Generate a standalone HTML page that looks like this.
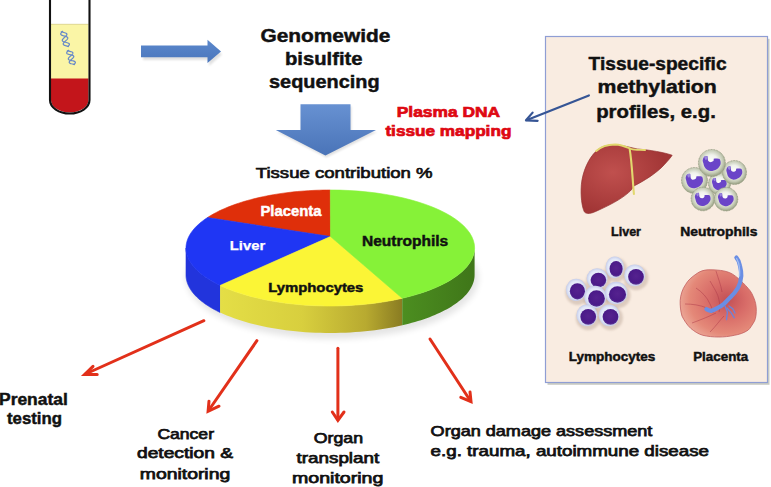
<!DOCTYPE html>
<html><head><meta charset="utf-8"><style>
html,body{margin:0;padding:0;background:#fff;overflow:hidden}
svg{display:block}
</style></head><body>
<svg width="771" height="487" viewBox="0 0 771 487">

<defs>
<linearGradient id="ysideg" x1="0" x2="1" y1="0" y2="0" gradientUnits="objectBoundingBox">
 <stop offset="0" stop-color="#e4de46"/><stop offset="0.45" stop-color="#d8cf3e"/><stop offset="0.8" stop-color="#b8aa30"/><stop offset="1" stop-color="#8a7c22"/>
</linearGradient>
<linearGradient id="gsideg" x1="0" x2="1" y1="0" y2="0">
 <stop offset="0" stop-color="#4c8e20"/><stop offset="1" stop-color="#3f7619"/>
</linearGradient>
<linearGradient id="downg" x1="0" x2="0" y1="0" y2="1">
 <stop offset="0" stop-color="#6791d2"/><stop offset="1" stop-color="#4a74b8"/>
</linearGradient>
<linearGradient id="rightg" x1="0" x2="0" y1="0" y2="1">
 <stop offset="0" stop-color="#5b88cc"/><stop offset="1" stop-color="#4a76bc"/>
</linearGradient>
<filter id="blur3" x="-20%" y="-20%" width="140%" height="140%"><feGaussianBlur stdDeviation="3"/></filter>
<filter id="blur1" x="-20%" y="-20%" width="140%" height="140%"><feGaussianBlur stdDeviation="1.2"/></filter>
<filter id="blur05" x="-20%" y="-20%" width="140%" height="140%"><feGaussianBlur stdDeviation="0.5"/></filter>
<radialGradient id="neutg" cx="0.48" cy="0.45" r="0.55">
 <stop offset="0" stop-color="#ffffff"/><stop offset="0.45" stop-color="#f0f2ec"/><stop offset="0.78" stop-color="#c4cab4"/><stop offset="1" stop-color="#959d80"/>
</radialGradient>
<radialGradient id="lymhalo" cx="0.5" cy="0.5" r="0.5">
 <stop offset="0" stop-color="#f2f5fd"/><stop offset="0.75" stop-color="#e2e8f8"/><stop offset="1" stop-color="#c6cdea"/>
</radialGradient>
<radialGradient id="lymnuc" cx="0.5" cy="0.45" r="0.55">
 <stop offset="0" stop-color="#55228f"/><stop offset="0.8" stop-color="#4a1a88"/><stop offset="1" stop-color="#5c3898"/>
</radialGradient>
<radialGradient id="placg" cx="0.62" cy="0.45" r="0.62">
 <stop offset="0" stop-color="#c25056"/><stop offset="0.4" stop-color="#d86c68"/><stop offset="0.8" stop-color="#e48878"/><stop offset="1" stop-color="#eaa292"/>
</radialGradient>
<radialGradient id="liverg" cx="0.35" cy="0.4" r="0.6">
 <stop offset="0" stop-color="#c0504e"/><stop offset="1" stop-color="#a23636"/>
</radialGradient>
</defs>


<path d="M50,-2 L50,100 A19.75,13.5 0 0 0 89.5,100 L89.5,-2" fill="#fff" stroke="none"/>
<rect x="51" y="24" width="37.5" height="55" fill="#faf5a6"/>
<line x1="51" y1="24.3" x2="88.5" y2="24.3" stroke="#d8cf90" stroke-width="0.8"/>
<path d="M51,78.5 L88.5,78.5 L88.5,100 A18.75,12.5 0 0 1 51,100 Z" fill="#c3151b"/>
<path d="M50,-2 L50,100 A19.75,13.5 0 0 0 89.5,100 L89.5,-2" fill="none" stroke="#111" stroke-width="2.1"/>
<path d="M63.00,31.00 L62.38,31.58 L61.80,32.15 L61.31,32.70 L60.94,33.21 L60.73,33.69 L60.70,34.13 L60.84,34.51 L61.17,34.86 L61.66,35.16 L62.29,35.43 L63.03,35.67 L63.84,35.89 L64.66,36.11 L65.47,36.33 L66.21,36.57 L66.84,36.84 L67.33,37.14 L67.66,37.49 L67.80,37.87 L67.77,38.31 L67.56,38.79 L67.19,39.30 L66.70,39.85 L66.12,40.42 L65.50,41.00 L64.88,41.58 L64.30,42.15 L63.81,42.70 L63.44,43.21 L63.23,43.69 L63.20,44.13 L63.34,44.51 L63.67,44.86 L64.16,45.16 L64.79,45.43 L65.53,45.67 L66.34,45.89 L67.16,46.11 L67.97,46.33 L68.71,46.57" fill="none" stroke="#6688c8" stroke-width="1.2"/><path d="M60.83,31.54 L61.48,31.80 L62.23,32.04 L63.05,32.26 L63.87,32.48 L64.67,32.71 L65.40,32.95 L66.01,33.22 L66.48,33.53 L66.78,33.88 L66.90,34.28 L66.83,34.72 L66.60,35.20 L66.21,35.72 L65.70,36.27 L65.12,36.85 L64.49,37.43 L63.87,38.01 L63.30,38.57 L62.83,39.12 L62.49,39.63 L62.30,40.10 L62.29,40.53 L62.46,40.91 L62.82,41.25 L63.33,41.54 L63.98,41.80 L64.73,42.04 L65.55,42.26 L66.37,42.48 L67.17,42.71 L67.90,42.95 L68.51,43.22 L68.98,43.53 L69.28,43.88 L69.40,44.28 L69.33,44.72 L69.10,45.20 L68.71,45.72 L68.20,46.27 L67.62,46.85" fill="none" stroke="#6688c8" stroke-width="1.2"/><path d="M69.00,50.00 L68.38,50.57 L67.80,51.12 L67.32,51.65 L66.95,52.15 L66.74,52.61 L66.71,53.02 L66.85,53.38 L67.18,53.70 L67.67,53.97 L68.30,54.20 L69.03,54.41 L69.84,54.60 L70.66,54.78 L71.47,54.97 L72.20,55.17 L72.83,55.40 L73.32,55.68 L73.65,55.99 L73.79,56.35 L73.76,56.76 L73.55,57.22 L73.18,57.72 L72.70,58.25 L72.12,58.81 L71.50,59.38 L70.88,59.94 L70.30,60.50 L69.82,61.03 L69.45,61.53 L69.24,61.99 L69.21,62.40 L69.35,62.76 L69.68,63.07 L70.17,63.35 L70.80,63.58 L71.53,63.78 L72.34,63.97 L73.16,64.15 L73.97,64.34 L74.70,64.55" fill="none" stroke="#6688c8" stroke-width="1.2"/><path d="M66.84,50.58 L67.49,50.81 L68.24,51.01 L69.05,51.19 L69.87,51.37 L70.67,51.56 L71.39,51.77 L72.00,52.01 L72.47,52.29 L72.77,52.61 L72.88,52.98 L72.82,53.40 L72.59,53.86 L72.20,54.37 L71.70,54.90 L71.11,55.46 L70.49,56.03 L69.87,56.60 L69.31,57.15 L68.84,57.68 L68.50,58.17 L68.31,58.62 L68.30,59.02 L68.48,59.38 L68.83,59.69 L69.34,59.95 L69.99,60.18 L70.74,60.38 L71.55,60.57 L72.37,60.75 L73.17,60.94 L73.89,61.15 L74.50,61.39 L74.97,61.66 L75.27,61.99 L75.38,62.36 L75.32,62.77 L75.09,63.24 L74.70,63.74 L74.20,64.28 L73.61,64.84" fill="none" stroke="#6688c8" stroke-width="1.2"/>

<polygon points="142,47 208,47 208,41 221,52.5 208,64 208,58 142,58" fill="#000" opacity="0.12" filter="url(#blur1)" transform="translate(1,2)"/>
<polygon points="141,45.5 207.5,45.5 207.5,39.7 221,51.4 207.5,63 207.5,57.2 141,57.2" fill="url(#rightg)"/>
<polygon points="300.5,104.3 350.5,104.3 350.5,130 376,130 325.4,155.4 275.8,130 300.5,130" fill="#000" opacity="0.12" filter="url(#blur1)" transform="translate(1,2)"/>
<polygon points="300.5,104.3 350.5,104.3 350.5,130 376,130 325.4,155.4 275.8,130 300.5,130" fill="url(#downg)"/>


<rect x="547.5" y="38.8" width="222" height="346" fill="#b8bab0" opacity="0.75" filter="url(#blur05)"/>
<rect x="545.5" y="36.5" width="222" height="346" fill="#f9ece1" stroke="#8f9ed4" stroke-width="1.2"/>

<g stroke="#365595" stroke-width="2.2" fill="none" stroke-linecap="round" stroke-linejoin="round">
<line x1="588.9" y1="95.5" x2="527" y2="120"/>
<polyline points="532.6,112.6 526,120.3 537.6,120.8"/>
</g>


<g transform="translate(570,135) scale(0.1746)">
<path d="M150,92 C105,135 72,210 65,285 C60,350 68,410 82,440 C95,455 120,452 160,432 C220,405 290,370 335,330 C350,318 358,305 366,292 C420,265 495,220 540,170 C562,146 578,128 585,116 C540,100 460,86 385,80 C345,72 305,58 255,56 C205,56 172,70 150,92 Z" fill="url(#liverg)" stroke="#93302f" stroke-width="4"/>
<path d="M150,92 C180,64 220,54 258,54 C300,56 330,72 350,80 C372,88 400,84 430,86" fill="none" stroke="#e2d86e" stroke-width="11" stroke-linecap="round"/>
<path d="M342,82 C354,150 358,250 366,338" fill="none" stroke="#e2d86e" stroke-width="12" stroke-linecap="round"/>
</g>

<g><circle cx="719.5" cy="183.7" r="11" fill="url(#neutg)" stroke="#8f967c" stroke-width="0.9" stroke-dasharray="0.8 0.8"/><path transform="translate(717.87,182.48) scale(0.774)" d="M-6.1,-5 C-4.5,-6 -3,-6 -2.5,-5.4 C-2.2,-3 -2.2,-1.2 -1.8,-0.7 C-1,0.6 0.4,0.9 1.5,0.6 C3,0 4,-0.5 4,-1.5 L4,-2.9 C6,-3.2 9,-3.2 10.4,-2.5 C11.5,-0.5 11.5,1.5 11.2,2.9 C10,5.5 9,7 7.6,7.9 C5,9.5 3,10.1 1.1,10.1 C-1.5,9.8 -3.5,8.5 -4.7,7.2 C-6,5.5 -6.5,4 -6.8,2.2 C-7.3,0.5 -7.6,-0.5 -7.6,-1.4 C-7.4,-3 -6.8,-4.2 -6.1,-5 Z" fill="#6a44c8"/><path transform="translate(717.87,182.48) scale(0.774)" d="M-6,-5 C-5,-6 -3.5,-6 -2.8,-5.2 C-2.6,-3.5 -3,-2 -4,-1.5 C-5.2,-1.8 -5.8,-3.5 -6,-5 Z" fill="#9a86dc"/><circle cx="694.5" cy="180.5" r="13" fill="url(#neutg)" stroke="#8f967c" stroke-width="0.9" stroke-dasharray="0.8 0.8"/><path transform="translate(692.57,179.06) scale(0.915)" d="M-6.1,-5 C-4.5,-6 -3,-6 -2.5,-5.4 C-2.2,-3 -2.2,-1.2 -1.8,-0.7 C-1,0.6 0.4,0.9 1.5,0.6 C3,0 4,-0.5 4,-1.5 L4,-2.9 C6,-3.2 9,-3.2 10.4,-2.5 C11.5,-0.5 11.5,1.5 11.2,2.9 C10,5.5 9,7 7.6,7.9 C5,9.5 3,10.1 1.1,10.1 C-1.5,9.8 -3.5,8.5 -4.7,7.2 C-6,5.5 -6.5,4 -6.8,2.2 C-7.3,0.5 -7.6,-0.5 -7.6,-1.4 C-7.4,-3 -6.8,-4.2 -6.1,-5 Z" fill="#6a44c8"/><path transform="translate(692.57,179.06) scale(0.915)" d="M-6,-5 C-5,-6 -3.5,-6 -2.8,-5.2 C-2.6,-3.5 -3,-2 -4,-1.5 C-5.2,-1.8 -5.8,-3.5 -6,-5 Z" fill="#9a86dc"/><circle cx="734.5" cy="172.5" r="12" fill="url(#neutg)" stroke="#8f967c" stroke-width="0.9" stroke-dasharray="0.8 0.8"/><path transform="translate(732.72,171.17) scale(0.844)" d="M-6.1,-5 C-4.5,-6 -3,-6 -2.5,-5.4 C-2.2,-3 -2.2,-1.2 -1.8,-0.7 C-1,0.6 0.4,0.9 1.5,0.6 C3,0 4,-0.5 4,-1.5 L4,-2.9 C6,-3.2 9,-3.2 10.4,-2.5 C11.5,-0.5 11.5,1.5 11.2,2.9 C10,5.5 9,7 7.6,7.9 C5,9.5 3,10.1 1.1,10.1 C-1.5,9.8 -3.5,8.5 -4.7,7.2 C-6,5.5 -6.5,4 -6.8,2.2 C-7.3,0.5 -7.6,-0.5 -7.6,-1.4 C-7.4,-3 -6.8,-4.2 -6.1,-5 Z" fill="#6a44c8"/><path transform="translate(732.72,171.17) scale(0.844)" d="M-6,-5 C-5,-6 -3.5,-6 -2.8,-5.2 C-2.6,-3.5 -3,-2 -4,-1.5 C-5.2,-1.8 -5.8,-3.5 -6,-5 Z" fill="#9a86dc"/><circle cx="711.9" cy="163" r="13.5" fill="url(#neutg)" stroke="#8f967c" stroke-width="0.9" stroke-dasharray="0.8 0.8"/><path transform="translate(709.90,161.50) scale(0.950)" d="M-6.1,-5 C-4.5,-6 -3,-6 -2.5,-5.4 C-2.2,-3 -2.2,-1.2 -1.8,-0.7 C-1,0.6 0.4,0.9 1.5,0.6 C3,0 4,-0.5 4,-1.5 L4,-2.9 C6,-3.2 9,-3.2 10.4,-2.5 C11.5,-0.5 11.5,1.5 11.2,2.9 C10,5.5 9,7 7.6,7.9 C5,9.5 3,10.1 1.1,10.1 C-1.5,9.8 -3.5,8.5 -4.7,7.2 C-6,5.5 -6.5,4 -6.8,2.2 C-7.3,0.5 -7.6,-0.5 -7.6,-1.4 C-7.4,-3 -6.8,-4.2 -6.1,-5 Z" fill="#6a44c8"/><path transform="translate(709.90,161.50) scale(0.950)" d="M-6,-5 C-5,-6 -3.5,-6 -2.8,-5.2 C-2.6,-3.5 -3,-2 -4,-1.5 C-5.2,-1.8 -5.8,-3.5 -6,-5 Z" fill="#9a86dc"/><circle cx="702.9" cy="199" r="11.8" fill="url(#neutg)" stroke="#8f967c" stroke-width="0.9" stroke-dasharray="0.8 0.8"/><path transform="translate(701.15,197.69) scale(0.830)" d="M-6.1,-5 C-4.5,-6 -3,-6 -2.5,-5.4 C-2.2,-3 -2.2,-1.2 -1.8,-0.7 C-1,0.6 0.4,0.9 1.5,0.6 C3,0 4,-0.5 4,-1.5 L4,-2.9 C6,-3.2 9,-3.2 10.4,-2.5 C11.5,-0.5 11.5,1.5 11.2,2.9 C10,5.5 9,7 7.6,7.9 C5,9.5 3,10.1 1.1,10.1 C-1.5,9.8 -3.5,8.5 -4.7,7.2 C-6,5.5 -6.5,4 -6.8,2.2 C-7.3,0.5 -7.6,-0.5 -7.6,-1.4 C-7.4,-3 -6.8,-4.2 -6.1,-5 Z" fill="#6a44c8"/><path transform="translate(701.15,197.69) scale(0.830)" d="M-6,-5 C-5,-6 -3.5,-6 -2.8,-5.2 C-2.6,-3.5 -3,-2 -4,-1.5 C-5.2,-1.8 -5.8,-3.5 -6,-5 Z" fill="#9a86dc"/><circle cx="726" cy="199.2" r="11.8" fill="url(#neutg)" stroke="#8f967c" stroke-width="0.9" stroke-dasharray="0.8 0.8"/><path transform="translate(724.25,197.89) scale(0.830)" d="M-6.1,-5 C-4.5,-6 -3,-6 -2.5,-5.4 C-2.2,-3 -2.2,-1.2 -1.8,-0.7 C-1,0.6 0.4,0.9 1.5,0.6 C3,0 4,-0.5 4,-1.5 L4,-2.9 C6,-3.2 9,-3.2 10.4,-2.5 C11.5,-0.5 11.5,1.5 11.2,2.9 C10,5.5 9,7 7.6,7.9 C5,9.5 3,10.1 1.1,10.1 C-1.5,9.8 -3.5,8.5 -4.7,7.2 C-6,5.5 -6.5,4 -6.8,2.2 C-7.3,0.5 -7.6,-0.5 -7.6,-1.4 C-7.4,-3 -6.8,-4.2 -6.1,-5 Z" fill="#6a44c8"/><path transform="translate(724.25,197.89) scale(0.830)" d="M-6,-5 C-5,-6 -3.5,-6 -2.8,-5.2 C-2.6,-3.5 -3,-2 -4,-1.5 C-5.2,-1.8 -5.8,-3.5 -6,-5 Z" fill="#9a86dc"/></g>
<g><ellipse cx="616.1" cy="269.8" rx="11.1" ry="12.4" fill="#a89080" opacity="0.35" filter="url(#blur1)"/><ellipse cx="636" cy="277.8" rx="12.4" ry="12.4" fill="#a89080" opacity="0.35" filter="url(#blur1)"/><ellipse cx="598.4" cy="281.1" rx="12.35" ry="11.8" fill="#a89080" opacity="0.35" filter="url(#blur1)"/><ellipse cx="577.4" cy="292.3" rx="12.1" ry="12.6" fill="#a89080" opacity="0.35" filter="url(#blur1)"/><ellipse cx="617.5" cy="295.5" rx="13.1" ry="12.7" fill="#a89080" opacity="0.35" filter="url(#blur1)"/><ellipse cx="596.5" cy="299.5" rx="12.9" ry="12.7" fill="#a89080" opacity="0.35" filter="url(#blur1)"/><ellipse cx="588.2" cy="317.8" rx="12.4" ry="12.4" fill="#a89080" opacity="0.35" filter="url(#blur1)"/><ellipse cx="610.5" cy="317.8" rx="12.4" ry="12.4" fill="#a89080" opacity="0.35" filter="url(#blur1)"/><ellipse cx="614.8000000000001" cy="267.3" rx="9.2" ry="10.9" fill="url(#lymhalo)"/><ellipse cx="616.1" cy="268.8" rx="6.6" ry="7.9" fill="url(#lymnuc)"/><ellipse cx="634.7" cy="275.3" rx="10.5" ry="10.9" fill="url(#lymhalo)"/><ellipse cx="636" cy="276.8" rx="7.9" ry="7.9" fill="url(#lymnuc)"/><ellipse cx="597.1" cy="278.6" rx="10.45" ry="10.3" fill="url(#lymhalo)"/><ellipse cx="598.4" cy="280.1" rx="7.85" ry="7.3" fill="url(#lymnuc)"/><ellipse cx="576.1" cy="289.8" rx="10.2" ry="11.1" fill="url(#lymhalo)"/><ellipse cx="577.4" cy="291.3" rx="7.6" ry="8.1" fill="url(#lymnuc)"/><ellipse cx="616.2" cy="293.0" rx="11.2" ry="11.2" fill="url(#lymhalo)"/><ellipse cx="617.5" cy="294.5" rx="8.6" ry="8.2" fill="url(#lymnuc)"/><ellipse cx="595.2" cy="297.0" rx="11.0" ry="11.2" fill="url(#lymhalo)"/><ellipse cx="596.5" cy="298.5" rx="8.4" ry="8.2" fill="url(#lymnuc)"/><ellipse cx="586.9000000000001" cy="315.3" rx="10.5" ry="10.9" fill="url(#lymhalo)"/><ellipse cx="588.2" cy="316.8" rx="7.9" ry="7.9" fill="url(#lymnuc)"/><ellipse cx="609.2" cy="315.3" rx="10.5" ry="10.9" fill="url(#lymhalo)"/><ellipse cx="610.5" cy="316.8" rx="7.9" ry="7.9" fill="url(#lymnuc)"/></g>

<path d="M695.9,274.2 C700,271 704,270 708.2,269.8 C712,269.5 716,270 720.4,270.4 C725,271 729,272 732.6,274.2 C737,277 740,280 743.1,282.9 C747,287 750,290 751.8,293.4 C754,298 755.8,302 756.2,307.4 C756.5,313 756,318 754.4,321.3 C752,325 750.5,328 748.3,330 C744,333 739,334.5 734.3,335.3 C729,336.5 724,337 718.6,337 C713,337 708,336.5 702.9,335.3 C698,334 694,331 690.7,328.3 C687,325 684,320 682,316.1 C680.5,311 680,305 680.2,300.4 C680.5,295 682.5,289 685.5,284.7 C688,280 692,277 695.9,274.2 Z" fill="url(#placg)" stroke="#c25c5c" stroke-width="0.8"/>
<g stroke="#a83648" stroke-width="0.55" fill="none" opacity="0.85">
<path d="M710,281 C714,288 718,294 719,300 C720,305 720,309 719,312"/>
<path d="M696,288 C702,292 707,297 710,304 C712,308 713,311 713,313"/>
<path d="M685,304 C692,304 700,305 707,308"/>
<path d="M692,323 C700,320 708,317 716,313"/>
<path d="M710,332 C716,326 720,320 724,316"/>
<path d="M716,271 C718,278 721,285 722,292"/>
</g>
<path d="M736.4,257.6 C738.5,260 739.6,263 739.9,265.5 C740.8,269 741.5,272 741.3,275.9 C741,280 739.8,284.5 737.8,288.2 C735.5,292 733.5,294.5 730.8,296.9 C728,299.5 726,302 723.9,303.9 C722,305.5 720.5,306.5 718.6,307.4 C716,308.8 714,310 711.6,310.8 C709.5,311 708,310 706.4,309.1" fill="none" stroke="#6a8ee4" stroke-width="4.2" stroke-linecap="round"/>
<path d="M736.6,258.5 C738,261 739,264 739.3,267 C739.6,270 739.8,273 739.5,276" fill="none" stroke="#9fbcf2" stroke-width="1.4" stroke-linecap="round"/>
<g stroke="#6a84dc" stroke-width="1.3" fill="none" stroke-linecap="round">
<path d="M725,306 L727.4,312 L726.5,319.6"/><path d="M727,308 L731,312.6 L734.3,317.8"/><path d="M729,306 L733,309 L735,313"/>
</g>

<ellipse cx="332.3" cy="278" rx="146.3" ry="61" fill="#000" opacity="0.10" filter="url(#blur3)"/><polygon points="186.00,248.00 186.02,249.02 186.09,250.03 186.20,251.05 186.36,252.07 186.55,253.08 186.80,254.09 187.09,255.10 187.42,256.11 187.79,257.12 188.21,258.12 188.68,259.12 189.18,260.12 189.74,261.11 190.33,262.10 190.97,263.08 191.65,264.06 192.37,265.04 193.13,266.01 193.94,266.97 194.79,267.93 195.68,268.88 196.61,269.83 197.58,270.77 198.60,271.70 199.65,272.63 200.75,273.54 201.88,274.45 203.06,275.35 204.27,276.25 205.52,277.13 206.81,278.01 208.14,278.87 209.51,279.73 210.91,280.58 212.35,281.41 213.83,282.24 215.34,283.05 216.89,283.86 218.47,284.65 220.08,285.44 220.08,312.44 218.47,311.65 216.89,310.86 215.34,310.05 213.83,309.24 212.35,308.41 210.91,307.58 209.51,306.73 208.14,305.87 206.81,305.01 205.52,304.13 204.27,303.25 203.06,302.35 201.88,301.45 200.75,300.54 199.65,299.63 198.60,298.70 197.58,297.77 196.61,296.83 195.68,295.88 194.79,294.93 193.94,293.97 193.13,293.01 192.37,292.04 191.65,291.06 190.97,290.08 190.33,289.10 189.74,288.11 189.18,287.12 188.68,286.12 188.21,285.12 187.79,284.12 187.42,283.11 187.09,282.10 186.80,281.09 186.55,280.08 186.36,279.07 186.20,278.05 186.09,277.03 186.02,276.02 186.00,275.00" fill="#2234dc" stroke="#2234dc" stroke-width="0.6"/><polygon points="220.08,285.44 223.39,286.95 226.82,288.42 230.38,289.85 234.06,291.22 237.86,292.54 241.77,293.80 245.78,295.01 249.90,296.16 254.12,297.26 258.42,298.29 262.82,299.27 267.29,300.18 271.84,301.03 276.47,301.81 281.15,302.53 285.90,303.19 290.70,303.77 295.55,304.29 300.44,304.74 305.37,305.13 310.32,305.44 315.30,305.69 320.30,305.86 325.31,305.97 330.33,306.00 335.35,305.96 340.36,305.86 345.36,305.68 350.34,305.44 355.30,305.12 360.22,304.74 365.11,304.29 369.96,303.77 374.76,303.18 379.51,302.52 384.19,301.80 388.81,301.02 393.36,300.17 397.84,299.25 402.23,298.28 402.23,325.28 397.84,326.25 393.36,327.17 388.81,328.02 384.19,328.80 379.51,329.52 374.76,330.18 369.96,330.77 365.11,331.29 360.22,331.74 355.30,332.12 350.34,332.44 345.36,332.68 340.36,332.86 335.35,332.96 330.33,333.00 325.31,332.97 320.30,332.86 315.30,332.69 310.32,332.44 305.37,332.13 300.44,331.74 295.55,331.29 290.70,330.77 285.90,330.19 281.15,329.53 276.47,328.81 271.84,328.03 267.29,327.18 262.82,326.27 258.42,325.29 254.12,324.26 249.90,323.16 245.78,322.01 241.77,320.80 237.86,319.54 234.06,318.22 230.38,316.85 226.82,315.42 223.39,313.95 220.08,312.44" fill="url(#ysideg)"/><polygon points="402.23,298.28 405.49,297.50 408.69,296.70 411.84,295.85 414.93,294.98 417.97,294.07 420.94,293.13 423.86,292.16 426.71,291.16 429.49,290.13 432.20,289.07 434.85,287.98 437.42,286.86 439.92,285.72 442.34,284.55 444.68,283.36 446.95,282.14 449.14,280.90 451.24,279.64 453.27,278.35 455.20,277.04 457.06,275.72 458.82,274.37 460.50,273.01 462.08,271.63 463.58,270.23 464.98,268.82 466.30,267.39 467.51,265.95 468.64,264.50 469.67,263.04 470.60,261.56 471.44,260.08 472.18,258.59 472.82,257.09 473.36,255.58 473.81,254.07 474.15,252.56 474.40,251.04 474.55,249.52 474.60,248.00 474.60,275.00 474.55,276.52 474.40,278.04 474.15,279.56 473.81,281.07 473.36,282.58 472.82,284.09 472.18,285.59 471.44,287.08 470.60,288.56 469.67,290.04 468.64,291.50 467.51,292.95 466.30,294.39 464.98,295.82 463.58,297.23 462.08,298.63 460.50,300.01 458.82,301.37 457.06,302.72 455.20,304.04 453.27,305.35 451.24,306.64 449.14,307.90 446.95,309.14 444.68,310.36 442.34,311.55 439.92,312.72 437.42,313.86 434.85,314.98 432.20,316.07 429.49,317.13 426.71,318.16 423.86,319.16 420.94,320.13 417.97,321.07 414.93,321.98 411.84,322.85 408.69,323.70 405.49,324.50 402.23,325.28" fill="url(#gsideg)"/><polygon points="330.50,236.50 330.30,190.00 326.63,190.02 322.96,190.08 319.30,190.17 315.64,190.30 312.00,190.47 308.36,190.67 304.74,190.92 301.14,191.20 297.55,191.51 293.99,191.87 290.45,192.26 286.93,192.68 283.45,193.14 279.99,193.64 276.57,194.17 273.18,194.74 269.82,195.34 266.51,195.97 263.24,196.64 260.01,197.35 256.83,198.08 253.69,198.85 250.61,199.65 247.57,200.48 244.59,201.34 241.67,202.23 238.80,203.15 235.99,204.10 233.24,205.08 230.56,206.09 227.94,207.12 225.39,208.18 222.90,209.26 220.48,210.37 218.14,211.51 215.87,212.67 213.67,213.85 211.54,215.05 209.50,216.28 207.53,217.52" fill="#df2f0a" stroke="#df2f0a" stroke-width="0.6" stroke-linejoin="round"/><polygon points="330.50,236.50 207.53,217.52 205.21,219.09 203.02,220.68 200.95,222.30 199.00,223.94 197.19,225.61 195.51,227.30 193.96,229.00 192.54,230.73 191.26,232.48 190.12,234.24 189.12,236.01 188.25,237.80 187.52,239.59 186.94,241.40 186.49,243.21 186.19,245.03 186.03,246.84 186.01,248.66 186.13,250.48 186.40,252.30 186.80,254.11 187.35,255.92 188.04,257.72 188.87,259.50 189.83,261.28 190.94,263.05 192.18,264.80 193.56,266.53 195.07,268.24 196.72,269.94 198.50,271.61 200.41,273.26 202.44,274.89 204.60,276.49 206.89,278.06 209.29,279.60 211.82,281.11 214.46,282.59 217.22,284.03 220.08,285.44" fill="#1f36f4" stroke="#1f36f4" stroke-width="0.6" stroke-linejoin="round"/><polygon points="330.50,236.50 220.08,285.44 223.39,286.95 226.82,288.42 230.38,289.85 234.06,291.22 237.86,292.54 241.77,293.80 245.78,295.01 249.90,296.16 254.12,297.26 258.42,298.29 262.82,299.27 267.29,300.18 271.84,301.03 276.47,301.81 281.15,302.53 285.90,303.19 290.70,303.77 295.55,304.29 300.44,304.74 305.37,305.13 310.32,305.44 315.30,305.69 320.30,305.86 325.31,305.97 330.33,306.00 335.35,305.96 340.36,305.86 345.36,305.68 350.34,305.44 355.30,305.12 360.22,304.74 365.11,304.29 369.96,303.77 374.76,303.18 379.51,302.52 384.19,301.80 388.81,301.02 393.36,300.17 397.84,299.25 402.23,298.28" fill="#fbf536" stroke="#fbf536" stroke-width="0.6" stroke-linejoin="round"/><polygon points="330.50,236.50 402.23,298.28 410.26,296.28 417.95,294.07 425.27,291.67 432.18,289.08 438.65,286.31 444.65,283.38 450.17,280.29 455.17,277.07 459.63,273.72 463.54,270.27 466.88,266.71 469.64,263.08 471.79,259.38 473.34,255.64 474.28,251.86 474.60,248.06 474.30,244.26 473.38,240.48 471.85,236.74 469.72,233.04 466.98,229.40 463.66,225.85 459.77,222.39 455.32,219.04 450.33,215.81 444.83,212.72 438.84,209.78 432.39,207.01 425.50,204.41 418.19,202.00 410.52,199.79 402.49,197.78 394.16,195.99 385.56,194.42 376.71,193.08 367.67,191.98 358.47,191.12 349.15,190.50 339.74,190.12 330.30,190.00" fill="#86f238" stroke="#86f238" stroke-width="0.6" stroke-linejoin="round"/>
<g stroke="#e2301a" stroke-width="3" fill="none" stroke-linecap="round" stroke-linejoin="miter"><line x1="203.9" y1="320.7" x2="85.5" y2="374"/><polyline points="93,366.4 84.6,374.6 97.2,374.6"/><line x1="256.9" y1="340.7" x2="208.6" y2="410.5"/><polyline points="209,401.2 208.1,411.3 219,406.2"/><line x1="337.9" y1="348.3" x2="337.9" y2="419.5"/><polyline points="332.3,412 337.9,420.4 344,412"/><line x1="430" y1="339" x2="470.5" y2="401"/><polyline points="460.8,397.3 471,401.7 470,392"/></g>
<text x="260.40" y="41.80" font-size="18.5" font-family="Liberation Sans" font-weight="bold" fill="#111" stroke="#111" stroke-width="0.45" textLength="130.00" lengthAdjust="spacingAndGlyphs">Genomewide</text><text x="285.00" y="64.60" font-size="18.5" font-family="Liberation Sans" font-weight="bold" fill="#111" stroke="#111" stroke-width="0.45" textLength="77.60" lengthAdjust="spacingAndGlyphs">bisulfite</text><text x="269.00" y="88.00" font-size="18.5" font-family="Liberation Sans" font-weight="bold" fill="#111" stroke="#111" stroke-width="0.45" textLength="110.60" lengthAdjust="spacingAndGlyphs">sequencing</text><text x="396.80" y="116.80" font-size="14.5" font-family="Liberation Sans" font-weight="bold" fill="#de0812" stroke="#de0812" stroke-width="0.7" textLength="103.20" lengthAdjust="spacingAndGlyphs">Plasma DNA</text><text x="385.40" y="136.40" font-size="14.5" font-family="Liberation Sans" font-weight="bold" fill="#de0812" stroke="#de0812" stroke-width="0.7" textLength="126.00" lengthAdjust="spacingAndGlyphs">tissue mapping</text><text x="588.60" y="70.30" font-size="18.5" font-family="Liberation Sans" font-weight="bold" fill="#111" stroke="#111" stroke-width="0.45" textLength="138.00" lengthAdjust="spacingAndGlyphs">Tissue-specific</text><text x="597.60" y="93.10" font-size="18.5" font-family="Liberation Sans" font-weight="bold" fill="#111" stroke="#111" stroke-width="0.45" textLength="119.20" lengthAdjust="spacingAndGlyphs">methylation</text><text x="596.20" y="117.60" font-size="18.5" font-family="Liberation Sans" font-weight="bold" fill="#111" stroke="#111" stroke-width="0.45" textLength="119.60" lengthAdjust="spacingAndGlyphs">profiles, e.g.</text><text x="611.00" y="236.40" font-size="12.5" font-family="Liberation Sans" font-weight="bold" fill="#111" stroke="#111" stroke-width="0.45" textLength="30.00" lengthAdjust="spacingAndGlyphs">Liver</text><text x="680.20" y="236.40" font-size="12.5" font-family="Liberation Sans" font-weight="bold" fill="#111" stroke="#111" stroke-width="0.45" textLength="77.20" lengthAdjust="spacingAndGlyphs">Neutrophils</text><text x="568.80" y="360.80" font-size="12.5" font-family="Liberation Sans" font-weight="bold" fill="#111" stroke="#111" stroke-width="0.45" textLength="86.60" lengthAdjust="spacingAndGlyphs">Lymphocytes</text><text x="693.20" y="360.80" font-size="12.5" font-family="Liberation Sans" font-weight="bold" fill="#111" stroke="#111" stroke-width="0.45" textLength="55.00" lengthAdjust="spacingAndGlyphs">Placenta</text><text x="255.80" y="177.80" font-size="15.5" font-family="Liberation Sans" fill="#111" stroke="#111" stroke-width="0.7" textLength="176.80" lengthAdjust="spacingAndGlyphs">Tissue contribution %</text><text x="260.40" y="216.30" font-size="14" font-family="Liberation Sans" font-weight="bold" fill="#fff" stroke="#fff" stroke-width="0.45" textLength="61.00" lengthAdjust="spacingAndGlyphs">Placenta</text><text x="229.80" y="250.10" font-size="13.5" font-family="Liberation Sans" font-weight="bold" fill="#fff" stroke="#fff" stroke-width="0.25" textLength="35.40" lengthAdjust="spacingAndGlyphs">Liver</text><text x="362.00" y="246.00" font-size="14" font-family="Liberation Sans" font-weight="bold" fill="#111" stroke="#111" stroke-width="0.45" textLength="86.20" lengthAdjust="spacingAndGlyphs">Neutrophils</text><text x="268.20" y="291.50" font-size="12.5" font-family="Liberation Sans" font-weight="bold" fill="#111" stroke="#111" stroke-width="0.45" textLength="95.20" lengthAdjust="spacingAndGlyphs">Lymphocytes</text><text x="-1.00" y="404.90" font-size="16" font-family="Liberation Sans" font-weight="bold" fill="#111" stroke="#111" stroke-width="0.45" textLength="68.80" lengthAdjust="spacingAndGlyphs">Prenatal</text><text x="7.00" y="424.40" font-size="16" font-family="Liberation Sans" font-weight="bold" fill="#111" stroke="#111" stroke-width="0.45" textLength="55.00" lengthAdjust="spacingAndGlyphs">testing</text><text x="157.40" y="438.70" font-size="15" font-family="Liberation Sans" fill="#111" stroke="#111" stroke-width="0.75" textLength="56.60" lengthAdjust="spacingAndGlyphs">Cancer</text><text x="137.00" y="458.30" font-size="15" font-family="Liberation Sans" fill="#111" stroke="#111" stroke-width="0.75" textLength="96.00" lengthAdjust="spacingAndGlyphs">detection &amp;</text><text x="139.80" y="478.50" font-size="15" font-family="Liberation Sans" fill="#111" stroke="#111" stroke-width="0.75" textLength="90.40" lengthAdjust="spacingAndGlyphs">monitoring</text><text x="313.80" y="443.30" font-size="15" font-family="Liberation Sans" fill="#111" stroke="#111" stroke-width="0.75" textLength="49.20" lengthAdjust="spacingAndGlyphs">Organ</text><text x="296.60" y="462.80" font-size="15" font-family="Liberation Sans" fill="#111" stroke="#111" stroke-width="0.75" textLength="82.60" lengthAdjust="spacingAndGlyphs">transplant</text><text x="292.00" y="483.00" font-size="15" font-family="Liberation Sans" fill="#111" stroke="#111" stroke-width="0.75" textLength="91.40" lengthAdjust="spacingAndGlyphs">monitoring</text><text x="430.60" y="436.40" font-size="15" font-family="Liberation Sans" fill="#111" stroke="#111" stroke-width="0.75" textLength="221.80" lengthAdjust="spacingAndGlyphs">Organ damage assessment</text><text x="430.60" y="456.20" font-size="15" font-family="Liberation Sans" fill="#111" stroke="#111" stroke-width="0.75" textLength="278.40" lengthAdjust="spacingAndGlyphs">e.g. trauma, autoimmune disease</text>
</svg>
</body></html>
